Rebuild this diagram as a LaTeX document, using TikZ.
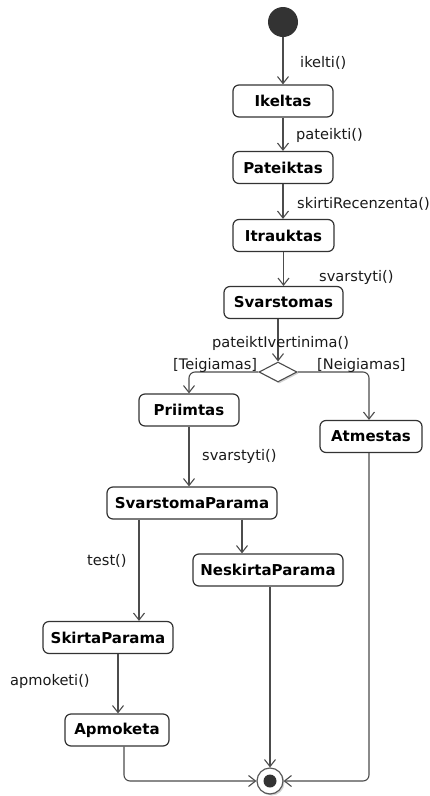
\documentclass[tikz,border=0pt]{standalone}
\usepackage{fontspec}
\setmainfont{DejaVu Sans}
\usetikzlibrary{arrows.meta,shapes.geometric,shadows}
\begin{document}
\begin{tikzpicture}[x=1pt,y=-1pt,
  state/.style={draw=black!80, line width=1.2pt, rounded corners=6pt, fill=white,
    minimum height=32pt, inner sep=0pt, font=\fontsize{15}{17}\selectfont\bfseries},
  flow/.style={draw=black!70, line width=1.1pt, rounded corners=6pt,
    -{Straight Barb[length=7pt,width=11pt]}},
  lbl/.style={font=\fontsize{14.6}{17}\selectfont, anchor=west, inner sep=0pt, text=black!90},
  softshadow/.style={drop shadow={shadow xshift=1.5pt, shadow yshift=-1.5pt, fill=black!35}},
]
\useasboundingbox (0,0) rectangle (430,796);

% start and end points
\node[circle, fill=black!80, minimum size=30pt, inner sep=0pt] (init) at (283,22) {};
\node[circle, draw=black!65, line width=1.2pt, fill=white, minimum size=26pt,
  inner sep=0pt, softshadow] (fin) at (270,781) {};
\node[circle, fill=black!80, minimum size=13pt, inner sep=0pt] (fincore) at (fin) {};

% states
\node[state, minimum width=100pt] (ikeltas)    at (283,101)   {Ikeltas};
\node[state, minimum width=100pt] (pateiktas)  at (283,167.5) {Pateiktas};
\node[state, minimum width=101pt] (itrauktas)  at (283.5,235.5) {Itrauktas};
\node[state, minimum width=119pt] (svarstomas) at (283.5,302.5) {Svarstomas};
\node[state, minimum width=100pt] (priimtas)   at (189,410)   {Priimtas};
\node[state, minimum width=102pt] (atmestas)   at (371,436.5) {Atmestas};
\node[state, minimum width=170pt] (svp)        at (192,503)   {SvarstomaParama};
\node[state, minimum width=150pt] (nsp)        at (268,570)   {NeskirtaParama};
\node[state, minimum width=130pt] (skp)        at (108,637.5) {SkirtaParama};
\node[state, minimum width=104pt] (apm)        at (117,730)   {Apmoketa};

% decision
\node[diamond, draw=black!70, line width=1.1pt, fill=white, minimum width=38pt,
  minimum height=20pt, inner sep=0pt, softshadow] (dec) at (278,372) {};

% transitions
\draw[flow] (init) -- (ikeltas);
\draw[flow] (ikeltas) -- (pateiktas);
\draw[flow] (pateiktas.south) -- (pateiktas.south |- itrauktas.north);
\draw[flow] (itrauktas.south) -- (itrauktas.south |- svarstomas.north);
\draw[flow] (dec.north |- svarstomas.south) -- (dec.north);
\draw[flow] (dec.west) -| (priimtas.north);
\draw[flow] (dec.east) -| ([xshift=-2pt]atmestas.north);
\draw[flow] (priimtas.south) -- (priimtas.south |- svp.north);
\draw[flow] ([xshift=-53pt]svp.south) -- ([xshift=-53pt]svp.south |- skp.north);
\draw[flow] ([xshift=50pt]svp.south) -- ([xshift=50pt]svp.south |- nsp.north);
\draw[flow] ([xshift=10pt]skp.south) -- ([xshift=10pt]skp.south |- apm.north);
\draw[flow] ([xshift=7pt]apm.south) |- (fin.west);
\draw[flow] (fin.north |- nsp.south) -- (fin.north);
\draw[flow] ([xshift=-2pt]atmestas.south) |- (fin.east);

% transition labels
\node[lbl] (l1)  at (300,63)  {ikelti()};
\node[lbl] (l2)  at (296,135) {pateikti()};
\node[lbl] (l3)  at (297,204) {skirtiRecenzenta()};
\node[lbl] (l4)  at (319,277) {svarstyti()};
\node[lbl] (l5)  at (212,343) {pateiktIvertinima()};
\node[lbl] (l6)  at (173,365) {[Teigiamas]};
\node[lbl] (l7)  at (317,365) {[Neigiamas]};
\node[lbl] (l8)  at (202,456) {svarstyti()};
\node[lbl] (l9)  at (87,561)  {test()};
\node[lbl] (l10) at (10,681)  {apmoketi()};
\end{tikzpicture}
\end{document}
